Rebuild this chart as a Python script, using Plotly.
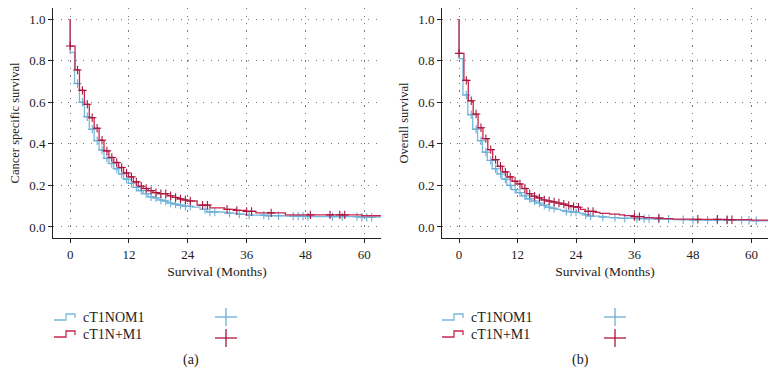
import numpy as np
import plotly.graph_objects as go

W, H = 777, 387
OFF = 8  # default page body margin in the rendered html
FW, FH = W - 2 * OFF, H - 2 * OFF

# ---------------- data ----------------
series_names = ["cT1NOM1", "cT1N+M1"]
colors = ["#7ab8dc", "#c8264e"]
cross_colors = ["#6aaed6", "#a8173f"]

# (a) Cancer specific survival
css_t_blue = [0, 0, 0.9, 1.9, 2.9, 3.9, 4.9, 5.9, 6.9, 7.9, 8.9, 9.9, 10.9, 11.9, 12.9, 13.9, 14.9, 15.9,
              16.9, 17.9, 18.9, 19.9, 20.9, 21.9, 22.9, 24.9, 26.5, 27.9, 31.5, 33.9, 35.9, 39.9, 43.9, 47.9, 59.5, 63.5]
css_s_blue = [1.0, 0.84, 0.69, 0.60, 0.53, 0.47, 0.415, 0.37, 0.33, 0.305, 0.28, 0.255, 0.23, 0.21, 0.19,
              0.175, 0.16, 0.145, 0.14, 0.13, 0.125, 0.115, 0.11, 0.105, 0.10, 0.095, 0.085, 0.072, 0.067,
              0.062, 0.057, 0.054, 0.052, 0.050, 0.047, 0.047]
css_t_red = [0, 0, 1.0, 1.9, 2.9, 3.9, 4.9, 5.9, 6.9, 7.9, 8.9, 9.9, 10.9, 11.9, 12.9, 13.9, 14.9, 15.9,
             16.9, 17.9, 19.9, 20.9, 21.9, 22.9, 23.9, 25.9, 28.5, 31.5, 33.9, 35.9, 37.9, 43.9, 59.5, 63.5]
css_s_red = [1.0, 0.87, 0.755, 0.657, 0.59, 0.525, 0.475, 0.417, 0.366, 0.334, 0.31, 0.286, 0.26, 0.241,
             0.217, 0.196, 0.185, 0.175, 0.165, 0.16, 0.15, 0.142, 0.135, 0.13, 0.125, 0.105, 0.092,
             0.085, 0.08, 0.075, 0.068, 0.058, 0.054, 0.054]
css_cens_blue = [1.5, 2.5, 3.5, 4.5, 5.5, 6.5, 7.5, 8.5, 9.5, 10.5, 11.5, 12.5, 13.5, 14.5, 15.5, 16.5, 17.5,
                 18.5, 19.5, 20.5, 21.5, 22.5, 23.5, 24.5, 27.5, 28.5, 29.5, 32.5, 34.5, 36.5, 39.5, 40.5,
                 42.5, 45.5, 46.5, 47.5, 48.5, 53.5, 55.5, 58.5, 59.5, 60.5, 61.5]
css_cens_red = [0, 1.5, 2.5, 3.5, 4.5, 5.5, 6.5, 7.5, 8.5, 9.5, 10.5, 11.5, 12.5, 13.5, 14.5, 15.5, 16.5,
                17.5, 18.5, 19.5, 20.5, 21.5, 22.5, 23.5, 24.5, 27.0, 28.0, 32.0, 34.0, 36.0, 37.0, 41.0,
                49.0, 53.0, 55.0, 56.0]

# (b) Overall survival
os_t_blue = [0, 0, 0.8, 1.8, 2.8, 3.8, 4.8, 5.8, 6.8, 7.8, 8.8, 9.8, 10.8, 11.8, 12.8, 13.8, 14.8, 15.8,
             16.8, 17.8, 18.8, 19.8, 20.8, 21.8, 22.8, 23.8, 24.8, 25.8, 26.8, 28.8, 30.8, 32.8, 35.8,
             39.8, 43.8, 47.8, 54.8, 59.8, 63.5]
os_s_blue = [1.0, 0.81, 0.635, 0.54, 0.47, 0.415, 0.36, 0.32, 0.28, 0.255, 0.23, 0.20, 0.18, 0.165, 0.15,
             0.135, 0.125, 0.115, 0.105, 0.095, 0.09, 0.085, 0.08, 0.075, 0.072, 0.07, 0.065, 0.058,
             0.052, 0.048, 0.045, 0.042, 0.040, 0.038, 0.035, 0.033, 0.032, 0.030, 0.030]
os_t_red = [0, 0, 1.0, 1.9, 2.9, 3.9, 4.9, 5.9, 6.9, 7.9, 8.9, 9.9, 10.9, 11.9, 12.9, 13.9, 14.9, 15.9,
            16.9, 17.9, 18.9, 19.9, 20.9, 21.9, 22.9, 23.9, 24.9, 25.9, 27.9, 28.9, 30.9, 32.9, 33.9,
            35.9, 37.9, 39.9, 41.9, 43.9, 47.9, 54.9, 59.9, 63.5]
os_s_red = [1.0, 0.835, 0.705, 0.607, 0.543, 0.477, 0.425, 0.372, 0.324, 0.292, 0.265, 0.241, 0.22, 0.207,
            0.185, 0.16, 0.148, 0.14, 0.13, 0.125, 0.12, 0.115, 0.11, 0.103, 0.098, 0.095, 0.085, 0.075,
            0.07, 0.065, 0.062, 0.058, 0.055, 0.05, 0.045, 0.043, 0.040, 0.038, 0.037, 0.035, 0.033, 0.033]
os_cens_blue = [1.5, 2.5, 3.5, 4.5, 5.5, 6.5, 7.5, 8.5, 9.5, 10.5, 11.5, 12.5, 13.5, 14.5, 15.5, 16.5, 17.5,
                18.5, 19.5, 22.0, 23.0, 24.0, 26.0, 27.0, 29.5, 32.0, 34.0, 36.5, 38.0, 39.0, 41.0, 43.0,
                46.0, 48.0, 51.0, 53.0, 55.0, 58.0, 59.5, 61.0]
os_cens_red = [0, 1.5, 2.5, 3.5, 4.5, 5.5, 6.5, 7.5, 8.5, 9.5, 10.5, 11.5, 12.5, 13.5, 14.5, 15.5, 16.5,
               17.5, 18.5, 19.5, 20.5, 21.5, 22.5, 23.5, 24.5, 26.5, 27.5, 36.0, 37.0, 41.0, 49.0, 53.0,
               55.0, 56.0]

x_ticks = [0, 12, 24, 36, 48, 60]
y_ticks = [0.0, 0.2, 0.4, 0.6, 0.8, 1.0]
y_titles = ["Cancer specific survival", "Overall survival"]
x_title = "Survival (Months)"
captions = ["(a)", "(b)"]

# ---------------- helpers ----------------
def step_at(times, surv, t):
    times = np.asarray(times)
    surv = np.asarray(surv)
    idx = np.searchsorted(times, t, side="right") - 1
    return surv[np.clip(idx, 0, len(surv) - 1)]

def px(x):  # page pixel -> paper fraction
    return (x - OFF) / FW

def py(y):
    return 1 - (y - OFF) / FH

FONT = "'Liberation Serif', 'DejaVu Serif', 'Times New Roman', serif"
TXT = "#222"
fig = go.Figure()

panels = [
    dict(tb=css_t_blue, sb=css_s_blue, tr=css_t_red, sr=css_s_red, cb=css_cens_blue, cr=css_cens_red,
         dom=[px(53), px(381)]),
    dict(tb=os_t_blue, sb=os_s_blue, tr=os_t_red, sr=os_s_red, cb=os_cens_blue, cr=os_cens_red,
         dom=[px(442), px(768)]),
]

for i, p in enumerate(panels):
    xa = "x" if i == 0 else "x2"
    ya = "y" if i == 0 else "y2"
    for t, s, c, col, ccol in [(p["tb"], p["sb"], p["cb"], colors[0], cross_colors[0]),
                               (p["tr"], p["sr"], p["cr"], colors[1], cross_colors[1])]:
        fig.add_trace(go.Scatter(x=t, y=s, mode="lines", line=dict(color=col, width=1.3, shape="hv"),
                                 xaxis=xa, yaxis=ya, showlegend=False, hoverinfo="skip", cliponaxis=False))
        fig.add_trace(go.Scatter(x=c, y=step_at(t, s, np.asarray(c)), mode="markers",
                                 marker=dict(symbol="cross-thin", size=6, line=dict(color=ccol, width=1.1)),
                                 xaxis=xa, yaxis=ya, showlegend=False, hoverinfo="skip", cliponaxis=False))

axis_common = dict(showline=True, linecolor="#222", linewidth=1, ticks="outside", ticklen=4,
                   tickcolor="#222", showgrid=True, gridcolor="#777", griddash="1.2px,6.3px", gridwidth=1,
                   zeroline=False, automargin=False, tickfont=dict(family=FONT, size=13, color=TXT))

ydom = [py(238), py(8)]
for i, p in enumerate(panels):
    sfx = "" if i == 0 else "2"
    fig.layout["xaxis" + sfx] = dict(domain=p["dom"], range=[-3.5, 63.4], tickvals=x_ticks,
                                     anchor="y" + sfx,
                                     title=dict(text=x_title, font=dict(family=FONT, size=13.5, color=TXT),
                                                standoff=5),
                                     **axis_common)
    fig.layout["yaxis" + sfx] = dict(domain=ydom, range=[-0.053, 1.053], tickvals=y_ticks,
                                     tickformat=".1f", anchor="x" + sfx,
                                     title=dict(text=y_titles[i], font=dict(family=FONT, size=12.5, color=TXT),
                                                standoff=6),
                                     **axis_common)

# ---------------- legends (drawn below each panel) ----------------
shapes = []
annotations = []
legend_specs = [dict(x0=54, tx=81, cx=226, cap=191), dict(x0=442, tx=469, cx=615, cap=580)]
for spec in legend_specs:
    for j, (name, col, ccol) in enumerate(zip(series_names, colors, cross_colors)):
        yb = 320 + j * 17
        path = (f"M {px(spec['x0'])},{py(yb)} L {px(spec['x0'] + 12)},{py(yb)} "
                f"L {px(spec['x0'] + 12)},{py(yb - 6)} L {px(spec['x0'] + 21)},{py(yb - 6)} "
                f"L {px(spec['x0'] + 21)},{py(yb - 2)}")
        shapes.append(dict(type="path", path=path, xref="paper", yref="paper",
                           line=dict(color=col, width=1.3)))
        annotations.append(dict(text=name, x=px(spec["tx"]), y=py(yb - 3), xref="paper", yref="paper",
                                xanchor="left", yanchor="middle", showarrow=False,
                                font=dict(family=FONT, size=14, color=TXT)))
        cy = 317 + j * 21
        shapes.append(dict(type="line", x0=px(spec["cx"] - 11), x1=px(spec["cx"] + 11), y0=py(cy), y1=py(cy),
                           xref="paper", yref="paper", line=dict(color=ccol, width=1.3)))
        shapes.append(dict(type="line", x0=px(spec["cx"]), x1=px(spec["cx"]), y0=py(cy - 9), y1=py(cy + 9),
                           xref="paper", yref="paper", line=dict(color=ccol, width=1.3)))
for k, spec in enumerate(legend_specs):
    annotations.append(dict(text=captions[k], x=px(spec["cap"]), y=py(360), xref="paper", yref="paper",
                            xanchor="center", yanchor="middle", showarrow=False,
                            font=dict(family=FONT, size=14, color=TXT)))

fig.update_layout(width=FW, height=FH, margin=dict(l=0, r=0, t=0, b=0, autoexpand=False),
                  paper_bgcolor="white", plot_bgcolor="white", shapes=shapes, annotations=annotations,
                  showlegend=False, font=dict(family=FONT))

fig.write_html("out.html")
